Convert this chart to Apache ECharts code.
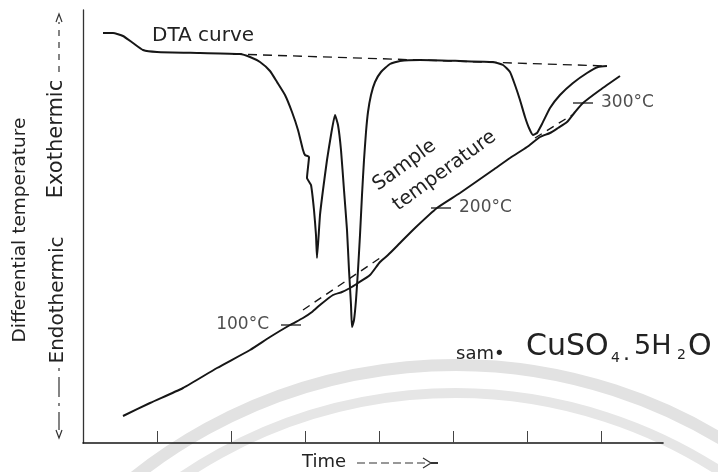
<!DOCTYPE html>
<html>
<head>
<meta charset="utf-8">
<script src="https://cdn.jsdelivr.net/npm/echarts@6/dist/echarts.min.js"></script>
<style>html,body{margin:0;padding:0;background:#fff;}#c{width:718px;height:472px;}</style>
</head>
<body>
<div id="c"></div>
<script>
// x: time (arbitrary units), y: differential temperature / sample temperature (arbitrary units)
const xTicks = [74, 148, 222, 296, 370, 444, 518];
const dtaCurve = [[20,410],[30,410],[40,407],[50,400],[60,393],[74,391],[117,390],[157,389],[167,386],[177,381],[187,372],[194,361],[202,348],[209,331],[215,313],[220,293],[222,288],[226,286],[224,265],[228,258],[231,233],[233,208],[234,185],[237,228],[240,253],[244,283],[248,308],[252,328],[255,318],[258,293],[261,253],[264,213],[266,173],[268,138],[269,116],[271,123],[273,143],[275,173],[277,208],[279,248],[281,283],[283,311],[285,331],[288,348],[292,361],[298,371],[307,379],[317,382],[337,383],[377,382],[410,381],[420,378],[427,371],[432,358],[437,343],[442,326],[446,315],[450,308],[454,310],[459,319],[467,335],[477,348],[490,360],[504,370],[515,376],[524,377]];
const dtaBaseline = [[150,389],[524,377]];
const sampleTemp = [[40,27],[67,40],[100,55],[134,75],[167,93],[187,106],[207,118],[220,125],[229,131],[237,138],[250,148],[259,151],[267,155],[275,160],[287,168],[297,181],[305,188],[317,200],[332,215],[354,235],[377,250],[410,273],[427,285],[444,296],[457,306],[467,310],[475,315],[484,321],[492,331],[500,340],[517,353],[537,367]];
const tempExtrap1 = [[220,133],[297,185]];
const tempExtrap2 = [[452,305],[489,328]];
const tempMarks = [
  {name:'100°C', value:[208,118], side:'left'},
  {name:'200°C', value:[358,235], side:'right'},
  {name:'300°C', value:[500,340], side:'right'}
];

const chart = echarts.init(document.getElementById('c'), null, {renderer:'canvas'});
const ink = '#161616';
const F = 'DejaVu Sans';
function vtext(t, x, y, size, rot, align){
  return {type:'text', x:x, y:y, rotation:rot||0, z:10,
    style:{text:t, fill:'#222', font: size+'px "'+F+'"', textAlign:align||'center', textVerticalAlign:'middle'}};
}
const graphics = [
  // watermark arcs
  {type:'arc', z:0, shape:{cx:455, cy:880, r:515, startAngle:-2.45, endAngle:-0.75}, style:{stroke:'#e2e2e2', lineWidth:12, fill:null}},
  {type:'arc', z:0, shape:{cx:455, cy:880, r:487, startAngle:-2.45, endAngle:-0.75}, style:{stroke:'#e6e6e6', lineWidth:10, fill:null}},
  vtext('DTA curve', 152, 36, 20, 0, 'left'),
  vtext('Sample', 375, 187, 19.5, 0.63, 'left'),
  vtext('temperature', 395, 207, 19.5, 0.63, 'left'),
  vtext('Differential temperature', 20, 230, 18.5, Math.PI/2),
  vtext('Exothermic', 57, 139, 21, Math.PI/2),
  vtext('Endothermic', 58, 300, 20, Math.PI/2),
  {type:'line', z:10, shape:{x1:59, y1:72, x2:59, y2:22}, style:{stroke:'#333', lineWidth:1.2, lineDash:[6,6]}},
  {type:'polyline', z:10, shape:{points:[[56,22],[59,14],[62,22]]}, style:{stroke:'#333', lineWidth:1.2, fill:null}},
  {type:'line', z:10, shape:{x1:59, y1:368, x2:59, y2:430}, style:{stroke:'#333', lineWidth:1.2, lineDash:[3,6,20,6]}},
  {type:'polyline', z:10, shape:{points:[[56,430],[59,438],[62,430]]}, style:{stroke:'#333', lineWidth:1.2, fill:null}},
  vtext('Time', 302, 462, 18, 0, 'left'),
  {type:'line', z:10, shape:{x1:357, y1:463, x2:428, y2:463}, style:{stroke:'#333', lineWidth:1.2, lineDash:[8,4]}},
  {type:'polyline', z:10, shape:{points:[[423,458],[431,463],[423,468]]}, style:{stroke:'#333', lineWidth:1.2, fill:null}},
  {type:'line', z:10, shape:{x1:431, y1:463, x2:438, y2:463}, style:{stroke:'#333', lineWidth:2}},
  // handwritten sample note
  vtext('sam•', 456, 354, 18, 0, 'left'),
  vtext('CuSO', 526, 347, 30, 0, 'left'),
  vtext('4', 611, 358, 14, 0, 'left'),
  vtext('.', 623, 354, 22, 0, 'left'),
  vtext('5H', 634, 347, 27, 0, 'left'),
  vtext('2', 677, 355, 14, 0, 'left'),
  vtext('O', 688, 347, 30, 0, 'left')
];

chart.setOption({
  animation:false,
  backgroundColor:'#fff',
  grid:{left:83, right:55, top:10, bottom:29, containLabel:false},
  xAxis:{type:'value', min:0, max:580,
    axisLine:{show:true, onZero:false, lineStyle:{color:ink, width:1.6}},
    axisTick:{show:true, inside:true, length:12, customValues:xTicks, lineStyle:{color:'#444', width:1}},
    axisLabel:{show:false}, splitLine:{show:false}},
  yAxis:{type:'value', min:0, max:433,
    axisLine:{show:true, onZero:false, lineStyle:{color:'#333', width:1.3}},
    axisTick:{show:false}, axisLabel:{show:false}, splitLine:{show:false}},
  graphic: graphics,
  series:[
    {type:'line', name:'DTA curve', data:dtaCurve, showSymbol:false, smooth:0.15, lineStyle:{color:ink, width:2}, z:3},
    {type:'line', name:'baseline', data:dtaBaseline, showSymbol:false, lineStyle:{color:ink, width:1.4, type:[9,6]}, z:3},
    {type:'line', name:'Sample temperature', data:sampleTemp, showSymbol:false, smooth:0.2, lineStyle:{color:ink, width:2}, z:3},
    {type:'line', name:'extrap1', data:tempExtrap1, showSymbol:false, lineStyle:{color:ink, width:1.4, type:[8,6]}, z:3},
    {type:'line', name:'extrap2', data:tempExtrap2, showSymbol:false, lineStyle:{color:ink, width:1.4, type:[8,6]}, z:3},
    {type:'scatter', name:'marks', data:tempMarks.map(m=>({name:m.name, value:m.value,
        label:{show:true, position:m.side, distance:m.side==='left'?12:8, formatter:m.name, color:'#222', fontSize:17, fontFamily:F}})),
      symbol:'rect', symbolSize:[20,1.6], itemStyle:{color:ink}, z:4}
  ]
});
</script>
</body>
</html>
